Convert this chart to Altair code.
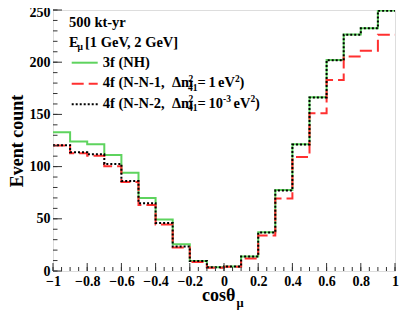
import altair as alt
import pandas as pd

# ---- data ----
bin_lo = [-1.0, -0.9, -0.8, -0.7, -0.6, -0.5, -0.4, -0.3, -0.2, -0.1,
          0.0, 0.1, 0.2, 0.3, 0.4, 0.5, 0.6, 0.7, 0.8, 0.9]
x_max = 1.0
nh_3f = [133, 124, 121.5, 111, 94, 70, 49.3, 25.7, 9.6, 3.5,
         4.3, 13.8, 37, 77.5, 121.5, 166.5, 202, 226.5, 232.5, 249.5]
nn1_4f = [120.3, 112.8, 110.3, 100.3, 85.3, 63.2, 44.5, 22.4, 8.7, 3.2,
          4.0, 11.9, 34.0, 69.5, 109.3, 151.0, 183.0, 205.4, 210.9, 226.3]
nn2_4f = [120.5, 113.8, 111.8, 102.6, 86.2, 65.0, 45.9, 23.4, 9.6, 3.5,
          4.3, 13.8, 36.8, 77.2, 121.2, 166.3, 201.9, 226.3, 232.4, 249.4]

x_ticks = [-1, -0.8, -0.6, -0.4, -0.2, 0, 0.2, 0.4, 0.6, 0.8, 1]
x_minor = [round(-1 + 0.05 * i, 2) for i in range(41)]
y_ticks = [0, 50, 100, 150, 200, 250]
y_minor = list(range(0, 251, 10))

FONT = "Liberation Serif"
W, H = 342, 261

xs = alt.Scale(domain=[-1, 1], nice=False, zero=False)
ys = alt.Scale(domain=[0, 250], nice=False)

xaxis = alt.Axis(values=x_ticks, ticks=False, domain=False, grid=False,
                 labelExpr="datum.value == 0 ? '0' : format(datum.value, '~g')",
                 labelFont=FONT, labelFontWeight="bold", labelFontSize=14,
                 labelColor="black", labelPadding=3, labelFlush=False, title=None)
yaxis = alt.Axis(values=y_ticks, ticks=False, domain=False, grid=False,
                 labelFont=FONT, labelFontWeight="bold", labelFontSize=14,
                 labelColor="black", labelPadding=3, labelFlush=False,
                 labelOffset={"condition": {"test": "datum.value == 250", "value": 2.5},
                              "value": 0},
                 title="Event count", titleFont=FONT, titleFontWeight="bold",
                 titleFontSize=18, titleColor="black", titleAngle=-90,
                 titleX=-35.5, titleY=130.5, titleAlign="center", titleBaseline="middle")


def steps(vals):
    return pd.DataFrame({"x": bin_lo + [x_max], "y": vals + [vals[-1]]})


def hist(vals, color, dash=None):
    kw = dict(interpolate="step-after", color=color, strokeWidth=2, clip=True)
    if dash:
        kw["strokeDash"] = dash
    return alt.Chart(steps(vals)).mark_line(**kw).encode(
        x=alt.X("x:Q", scale=xs, axis=xaxis),
        y=alt.Y("y:Q", scale=ys, axis=yaxis),
    )


GREEN = "#5ed35e"
RED = "#ff3030"
RED_DASH = [12, 5]
DOT = [2, 2]

layers = [
    hist(nh_3f, GREEN),
    hist(nn1_4f, RED, dash=RED_DASH),
    hist(nn2_4f, "black", dash=DOT),
]

# inward ticks
TC = "#333333"
layers.append(alt.Chart(pd.DataFrame({"t": x_ticks})).mark_rule(color=TC).encode(
    x=alt.X("t:Q", scale=xs, axis=xaxis), y=alt.value(H), y2=alt.value(H - 8)))
layers.append(alt.Chart(pd.DataFrame({"t": x_minor})).mark_rule(color=TC).encode(
    x=alt.X("t:Q", scale=xs, axis=xaxis), y=alt.value(H), y2=alt.value(H - 4)))
layers.append(alt.Chart(pd.DataFrame({"t": y_ticks})).mark_rule(color=TC).encode(
    y=alt.Y("t:Q", scale=ys, axis=yaxis), x=alt.value(0), x2=alt.value(9)))
layers.append(alt.Chart(pd.DataFrame({"t": y_minor})).mark_rule(color=TC).encode(
    y=alt.Y("t:Q", scale=ys, axis=yaxis), x=alt.value(0), x2=alt.value(4.5)))

one = pd.DataFrame({"a": [0]})
FS = 14.5   # legend font size
SS = 9.5    # sub/superscript size


def txt(s, x, y, size=FS, align="left"):
    return alt.Chart(one).mark_text(text=s, font=FONT, fontWeight="bold", fontSize=size,
                                    align=align, baseline="alphabetic", color="black").encode(
        x=alt.value(x), y=alt.value(y))


def leg_line(y, color, dash=None):
    kw = dict(color=color, strokeWidth=2)
    if dash:
        kw["strokeDash"] = dash
    return alt.Chart(one).mark_rule(**kw).encode(
        x=alt.value(18.7), x2=alt.value(44.7), y=alt.value(y))


# header text
layers += [
    txt("500 kt-yr", 16, 16.7),
    txt("E", 16, 36.7),
    txt("\u03bc", 24.5, 39.5, size=SS),
    txt("[1 GeV, 2 GeV]", 32, 36.7),
]

# legend
LX = 49.7
B1, B2 = 77.3, 97.6
layers += [
    leg_line(52.7, GREEN),
    leg_line(73.8, RED, RED_DASH),
    leg_line(94.2, "black", DOT),
    txt("3f (NH)", LX, 56.7),
    # line 1
    txt("4f (N-N-1,\u00a0 \u0394m", LX, B1),
    txt("2", 135.5, B1 - 5.8, size=SS),
    txt("41", 135, B1 + 3.2, size=SS),
    txt("=", 144.5, B1),
    txt("1", 155.5, B1),
    txt("eV", 165, B1),
    txt("2", 182, B1 - 5.8, size=SS),
    txt(")", 186.5, B1),
    # line 2
    txt("4f (N-N-2,\u00a0 \u0394m", LX, B2),
    txt("2", 135.5, B2 - 5.8, size=SS),
    txt("41", 135, B2 + 3.2, size=SS),
    txt("=", 144.5, B2),
    txt("10", 155.5, B2),
    txt("-3", 170, B2 - 5.8, size=SS),
    txt("eV", 180.5, B2),
    txt("2", 197.5, B2 - 5.8, size=SS),
    txt(")", 202, B2),
]

# x-axis title
layers += [
    txt("cos\u03b8", 149, 291, size=18),
    txt("\u03bc", 183.5, 296.5, size=12.5),
]

chart = alt.layer(*layers).properties(
    width=W, height=H,
    autosize=alt.AutoSizeParams(type="none"),
    padding={"left": 45, "top": 2, "right": 4, "bottom": 42},
).configure_view(stroke="#222222", strokeWidth=1).configure(background="white")

chart.save("out.html", embed_options={"renderer": "svg", "actions": False})
